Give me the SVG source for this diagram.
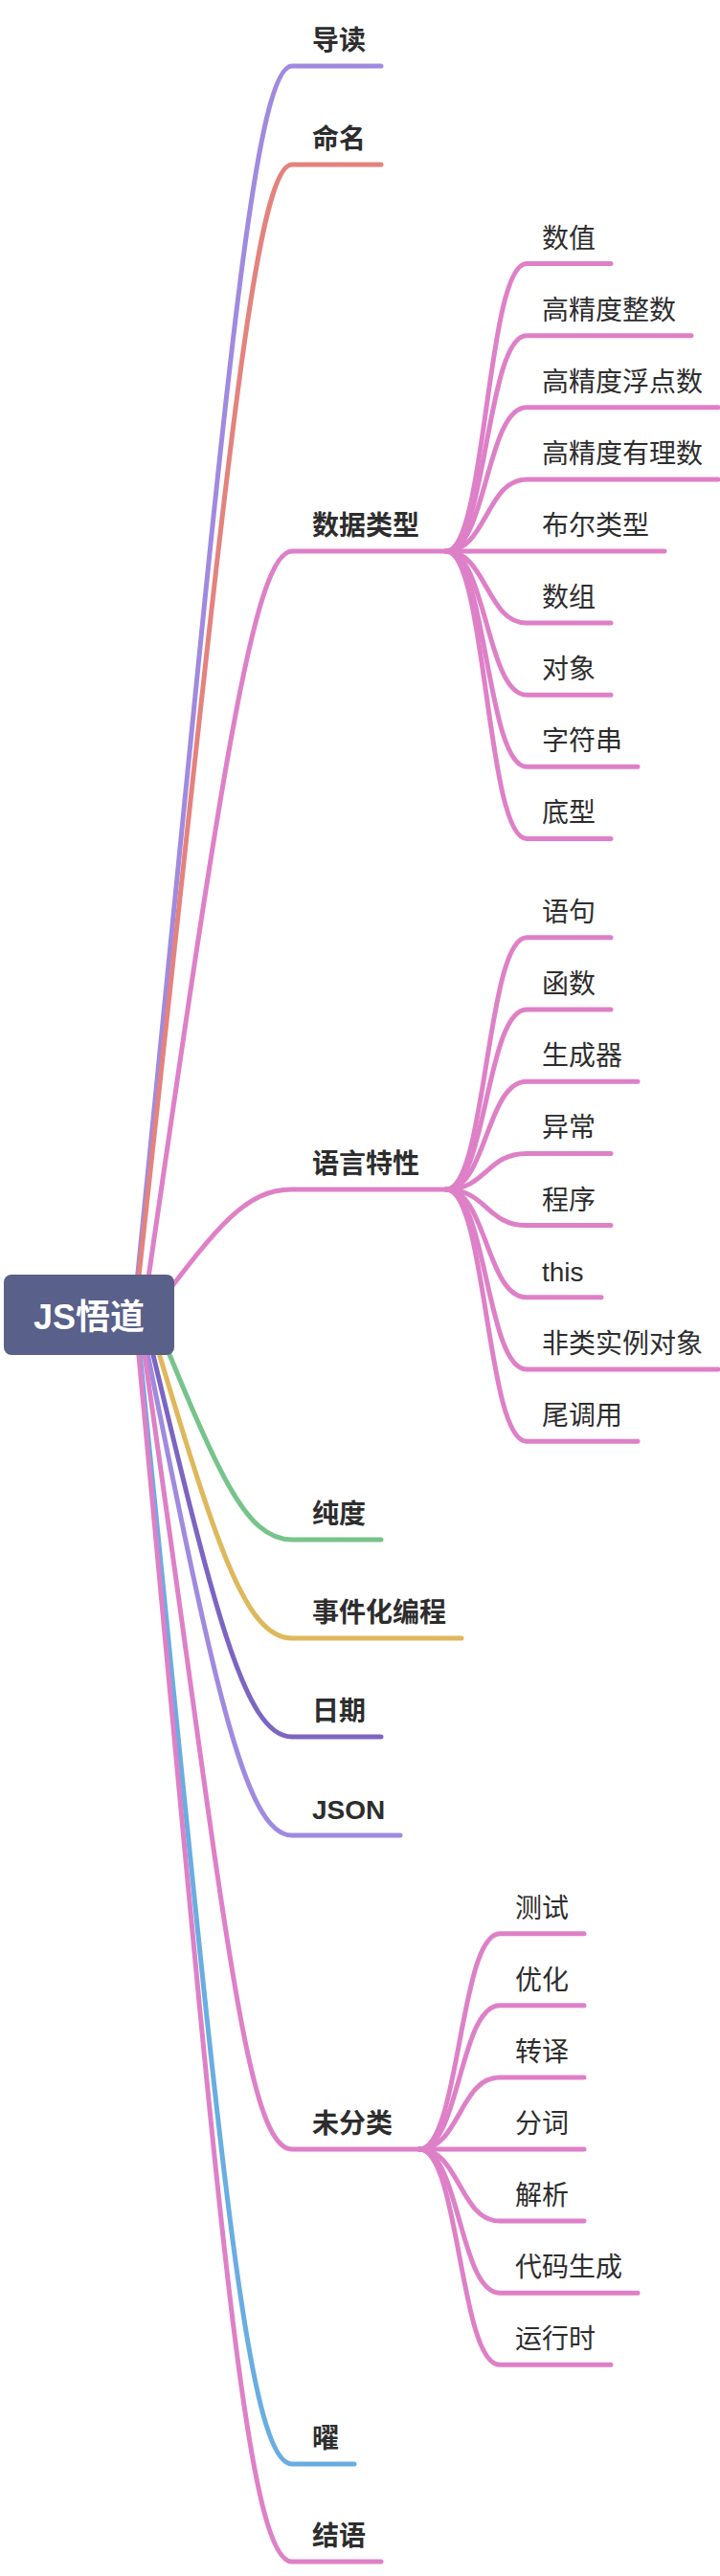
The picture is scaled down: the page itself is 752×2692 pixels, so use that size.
<svg xmlns="http://www.w3.org/2000/svg" width="752" height="2692" viewBox="0 0 752 2692">
<style>
.e{fill:none;stroke-width:5;stroke-linecap:round;stroke-linejoin:round}
.pu{stroke:#a08ae0}.rd{stroke:#e4827e}.pk{stroke:#de80c7}.gr{stroke:#76c48a}.gd{stroke:#dfb85c}.dp{stroke:#7c65c2}.bl{stroke:#69ade2}
.t1{font-family:"Liberation Sans","Noto Sans CJK SC",sans-serif;font-size:28px;font-weight:bold;fill:#2d2d2d}
.t2{font-family:"Liberation Sans","Noto Sans CJK SC",sans-serif;font-size:28px;fill:#2d2d2d}
.rt{font-family:"Liberation Sans","Noto Sans CJK SC",sans-serif;font-size:36px;font-weight:bold;fill:#ffffff}
</style>
<rect width="752" height="2692" fill="#ffffff"/>
<g id="connectors">
<path class="e pu" d="M140 1370 C231.5 459.3 262 69 305 69 H398"/>
<path class="e rd" d="M141 1370 C233.3 531.4 264 172 305 172 H398"/>
<path class="e pk" d="M150 1370 C230.5 814.2 265 576 305 576 H466"/>
<path class="e pk" d="M160 1370 C227.2 1281.8 256 1243 305 1243 H466"/>
<path class="e gr" d="M160 1374 C227.2 1538.5 256 1609 305 1609 H398"/>
<path class="e gd" d="M154 1374 C224.7 1610.6 255 1712 305 1712 H482"/>
<path class="e dp" d="M150 1374 C223.5 1682.7 255 1815 305 1815 H398"/>
<path class="e pu" d="M146 1374 C222.3 1754.8 255 1918 305 1918 H418"/>
<path class="e pk" d="M145 1374 C233 1984.4 255 2246 305 2246 H438"/>
<path class="e bl" d="M142 1374 C226.8 2214.7 255 2575 305 2575 H370"/>
<path class="e pk" d="M141 1374 C226.5 2286.1 255 2677 305 2677 H398"/>
<path class="e pk" d="M466 576 C508 576 508 275.6 550 275.6 H638"/>
<path class="e pk" d="M466 576 C508 576 508 350.7 550 350.7 H722"/>
<path class="e pk" d="M466 576 C508 576 508 425.8 550 425.8 H750"/>
<path class="e pk" d="M466 576 C508 576 508 500.9 550 500.9 H750"/>
<path class="e pk" d="M466 576 H694"/>
<path class="e pk" d="M466 576 C508 576 508 651.1 550 651.1 H638"/>
<path class="e pk" d="M466 576 C508 576 508 726.2 550 726.2 H638"/>
<path class="e pk" d="M466 576 C508 576 508 801.3 550 801.3 H666"/>
<path class="e pk" d="M466 576 C508 576 508 876.4 550 876.4 H638"/>
<path class="e pk" d="M466 1243 C508 1243 508 979.8 550 979.8 H638"/>
<path class="e pk" d="M466 1243 C508 1243 508 1055 550 1055 H638"/>
<path class="e pk" d="M466 1243 C508 1243 508 1130.2 550 1130.2 H666"/>
<path class="e pk" d="M466 1243 C508 1243 508 1205.4 550 1205.4 H638"/>
<path class="e pk" d="M466 1243 C508 1243 508 1280.6 550 1280.6 H638"/>
<path class="e pk" d="M466 1243 C508 1243 508 1355.8 550 1355.8 H628"/>
<path class="e pk" d="M466 1243 C508 1243 508 1431 550 1431 H750"/>
<path class="e pk" d="M466 1243 C508 1243 508 1506.2 550 1506.2 H666"/>
<path class="e pk" d="M438 2246 C480 2246 480 2020.7 522 2020.7 H610"/>
<path class="e pk" d="M438 2246 C480 2246 480 2095.8 522 2095.8 H610"/>
<path class="e pk" d="M438 2246 C480 2246 480 2170.9 522 2170.9 H610"/>
<path class="e pk" d="M438 2246 H610"/>
<path class="e pk" d="M438 2246 C480 2246 480 2321.1 522 2321.1 H610"/>
<path class="e pk" d="M438 2246 C480 2246 480 2396.2 522 2396.2 H666"/>
<path class="e pk" d="M438 2246 C480 2246 480 2471.3 522 2471.3 H638"/>
</g>
<g id="root">
<rect x="4" y="1332" width="178" height="84" rx="8" fill="#596089"/>
<text class="rt" x="93" y="1389" text-anchor="middle">JS悟道</text>
</g>
<g id="n-daodu"><text class="t1" x="326" y="52">导读</text></g>
<g id="n-mingming"><text class="t1" x="326" y="155">命名</text></g>
<g id="n-shujuleixing"><text class="t1" x="326" y="559">数据类型</text></g>
<g id="n-shuzhi"><text class="t2" x="566" y="258.6">数值</text></g>
<g id="n-gjdzs"><text class="t2" x="566" y="333.7">高精度整数</text></g>
<g id="n-gjdfds"><text class="t2" x="566" y="408.8">高精度浮点数</text></g>
<g id="n-gjdyls"><text class="t2" x="566" y="483.9">高精度有理数</text></g>
<g id="n-buer"><text class="t2" x="566" y="559">布尔类型</text></g>
<g id="n-shuzu"><text class="t2" x="566" y="634.1">数组</text></g>
<g id="n-duixiang"><text class="t2" x="566" y="709.2">对象</text></g>
<g id="n-zifuchuan"><text class="t2" x="566" y="784.3">字符串</text></g>
<g id="n-dixing"><text class="t2" x="566" y="859.4">底型</text></g>
<g id="n-yuyantexing"><text class="t1" x="326" y="1226">语言特性</text></g>
<g id="n-yuju"><text class="t2" x="566" y="962.8">语句</text></g>
<g id="n-hanshu"><text class="t2" x="566" y="1038">函数</text></g>
<g id="n-shengchengqi"><text class="t2" x="566" y="1113.2">生成器</text></g>
<g id="n-yichang"><text class="t2" x="566" y="1188.4">异常</text></g>
<g id="n-chengxu"><text class="t2" x="566" y="1263.6">程序</text></g>
<g id="n-this"><text class="t2" x="566" y="1338.8">this</text></g>
<g id="n-feilei"><text class="t2" x="566" y="1414">非类实例对象</text></g>
<g id="n-weidiaoyong"><text class="t2" x="566" y="1489.2">尾调用</text></g>
<g id="n-chundu"><text class="t1" x="326" y="1592">纯度</text></g>
<g id="n-shijian"><text class="t1" x="326" y="1695">事件化编程</text></g>
<g id="n-riqi"><text class="t1" x="326" y="1798">日期</text></g>
<g id="n-json"><text class="t1" x="326" y="1901">JSON</text></g>
<g id="n-weifenlei"><text class="t1" x="326" y="2229">未分类</text></g>
<g id="n-ceshi"><text class="t2" x="538" y="2003.7">测试</text></g>
<g id="n-youhua"><text class="t2" x="538" y="2078.8">优化</text></g>
<g id="n-zhuanyi"><text class="t2" x="538" y="2153.9">转译</text></g>
<g id="n-fenci"><text class="t2" x="538" y="2229">分词</text></g>
<g id="n-jiexi"><text class="t2" x="538" y="2304.1">解析</text></g>
<g id="n-daima"><text class="t2" x="538" y="2379.2">代码生成</text></g>
<g id="n-yunxingshi"><text class="t2" x="538" y="2454.3">运行时</text></g>
<g id="n-yao"><text class="t1" x="326" y="2558">曜</text></g>
<g id="n-jieyu"><text class="t1" x="326" y="2660">结语</text></g>
</svg>
